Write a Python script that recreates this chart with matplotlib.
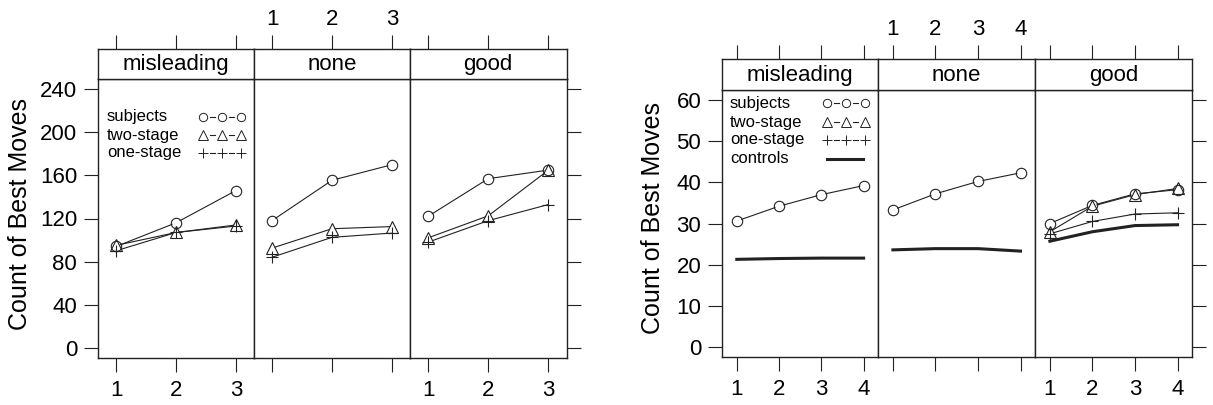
import matplotlib
matplotlib.use('Agg')
import matplotlib.pyplot as plt
from matplotlib.lines import Line2D

plt.rcParams['font.family'] = ['Liberation Sans', 'DejaVu Sans']

W, H = 1213, 405
INK = '#222222'

panel_names = ['misleading', 'none', 'good']

# left chart (3 stages), one list per panel
left_x = [1, 2, 3]
left_subjects = [[94, 116, 146], [118, 155.5, 170], [122, 157, 165]]
left_two_stage = [[95, 107, 114], [92.5, 110.5, 112.5], [102, 122.5, 165]]
left_one_stage = [[90, 107, 113], [84, 102.5, 106.5], [98, 118, 133]]
left_yticks = [0, 40, 80, 120, 160, 200, 240]

# right chart (4 stages)
right_x = [1, 2, 3, 4]
right_subjects = [[30.6, 34.2, 37.0, 39.2], [33.3, 37.2, 40.2, 42.3], [30.0, 34.4, 37.2, 38.2]]
right_two_stage_good = [28.0, 34.2, 37.0, 38.5]
right_one_stage_good = [27.5, 30.5, 32.3, 32.6]
right_controls = [[21.3, 21.5, 21.6, 21.6], [23.6, 23.9, 23.9, 23.3], [25.7, 28.0, 29.5, 29.7]]
right_yticks = [0, 10, 20, 30, 40, 50, 60]

MARKERS = {'subjects': ('o', 7.5), 'two-stage': ('^', 8), 'one-stage': ('+', 8)}


def fx(px):
    return px / W


def fy(py):
    return 1 - py / H


def make_panels(fig, edges, strip_top, panel_top, bottom, xlim, ylim, xticks, yticks):
    axes = []
    for i in range(3):
        l, r = edges[i], edges[i + 1]
        ax = fig.add_axes([fx(l), fy(bottom), (r - l) / W, (bottom - panel_top) / H])
        st = fig.add_axes([fx(l), fy(panel_top), (r - l) / W, (panel_top - strip_top) / H])
        for a in (ax, st):
            for sp in a.spines.values():
                sp.set_color(INK)
                sp.set_linewidth(1.0)
            a.set_xlim(*xlim)
        ax.set_ylim(*ylim)

        # bottom ticks
        ax.set_xticks(xticks)
        ax.tick_params(axis='x', direction='out', length=10, width=0.8, color=INK,
                       labelsize=16, pad=6, labelbottom=(i != 1))
        # y ticks
        ax.set_yticks(yticks)
        if i == 0:
            ax.tick_params(axis='y', direction='out', length=10, width=0.8, color=INK,
                           labelsize=16, pad=5)
        elif i == 2:
            ax.yaxis.tick_right()
            ax.tick_params(axis='y', direction='out', length=10, width=0.8, color=INK,
                           labelright=False)
        else:
            ax.tick_params(axis='y', length=0, labelleft=False)

        # strip with top ticks
        st.set_yticks([])
        st.xaxis.tick_top()
        st.set_xticks(xticks)
        st.tick_params(axis='x', direction='out', length=10, width=0.8, color=INK,
                       labelsize=16, pad=4, labeltop=(i == 1))
        st.text(0.5, 0.47, panel_names[i], transform=st.transAxes, ha='center',
                va='center', fontsize=16)
        axes.append(ax)
    return axes


def draw_series(ax, x, y, kind):
    m, ms = MARKERS[kind]
    ax.plot(x, y, color=INK, lw=0.8, zorder=2)
    if m != '+':
        ax.plot(x, y, ls='none', marker=m, ms=ms - 1.5, mfc='white', mec='none', zorder=3)
    ax.plot(x, y, ls='none', marker=m, ms=ms, mfc='none', mec=INK, mew=0.8, zorder=4)


def draw_key(ax, rows, text_x, sym_x, row_y):
    for (label, kind), y in zip(rows, row_y):
        ax.text(text_x, y, label, transform=ax.transAxes, fontsize=12,
                ha='left', va='center')
        if kind == 'controls':
            ax.add_line(Line2D([sym_x[0], sym_x[-1] - 0.01], [y, y], transform=ax.transAxes,
                               color=INK, lw=2.2, clip_on=False))
            continue
        m, ms = MARKERS[kind]
        # short dashes between the key symbols
        for a, b in zip(sym_x[:-1], sym_x[1:]):
            d = b - a
            ax.add_line(Line2D([a + 0.38 * d, a + 0.62 * d], [y, y],
                               transform=ax.transAxes, color=INK, lw=0.8))
        ax.add_line(Line2D(sym_x, [y] * 3, transform=ax.transAxes, ls='none',
                           marker=m, ms=ms - 1.5, mfc='none', mec=INK, mew=0.7))


fig = plt.figure(figsize=(W / 100, H / 100), dpi=100)

# ---- left chart ----
lax = make_panels(fig, [98, 254, 410, 566.5], 49, 79, 358,
                  (0.7, 3.3), (-9.6, 249.6), left_x, left_yticks)
for i, ax in enumerate(lax):
    draw_series(ax, left_x, left_one_stage[i], 'one-stage')
    draw_series(ax, left_x, left_two_stage[i], 'two-stage')
    draw_series(ax, left_x, left_subjects[i], 'subjects')
draw_key(lax[0], [('subjects', 'subjects'), ('two-stage', 'two-stage'),
                  ('one-stage', 'one-stage')],
         0.058, [0.673, 0.795, 0.915], [0.864, 0.799, 0.735])
fig.text(fx(20), fy(214), 'Count of Best Moves', rotation=90, ha='center',
         va='center', fontsize=18)

# ---- right chart ----
rax = make_panels(fig, [722, 878, 1035, 1192], 59, 90, 357,
                  (0.65, 4.34), (-2.4, 62.4), right_x, right_yticks)
for i, ax in enumerate(rax):
    ax.plot(right_x, right_controls[i], color=INK, lw=2.2, zorder=2)
    if i == 2:
        draw_series(ax, right_x, right_one_stage_good, 'one-stage')
        draw_series(ax, right_x, right_two_stage_good, 'two-stage')
    draw_series(ax, right_x, right_subjects[i], 'subjects')
draw_key(rax[0], [('subjects', 'subjects'), ('two-stage', 'two-stage'),
                  ('one-stage', 'one-stage'), ('controls', 'controls')],
         0.051, [0.673, 0.795, 0.917], [0.951, 0.88, 0.813, 0.742])
fig.text(fx(653), fy(218), 'Count of Best Moves', rotation=90, ha='center',
         va='center', fontsize=18)

fig.savefig('out.png', dpi=100)
